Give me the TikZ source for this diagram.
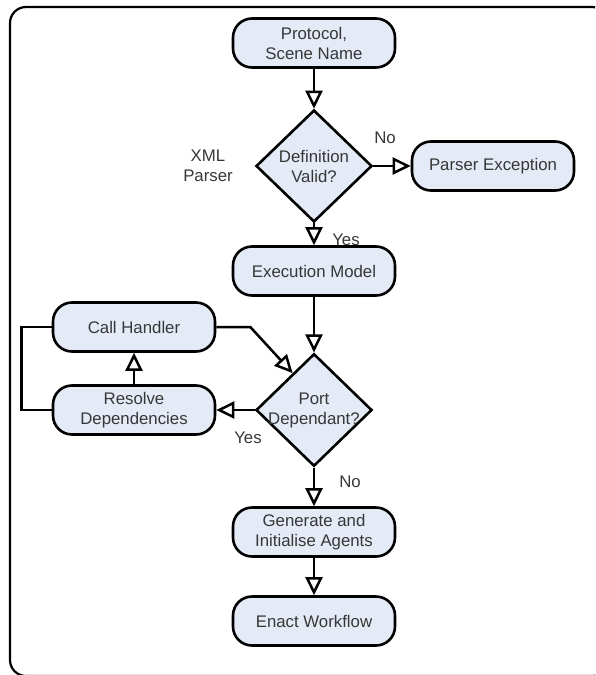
\documentclass[tikz,border=0pt]{standalone}
\usepackage{fontspec}
\setmainfont{Liberation Sans}
\usetikzlibrary{shapes.geometric, arrows.meta, calc}
\definecolor{BoxFill}{RGB}{228, 234, 246}
\definecolor{TextGrey}{RGB}{55, 55, 55}

\tikzset{
  labeltext/.style={text=TextGrey, font=\fontsize{16.8}{20}\selectfont, align=center},
  flowbox/.style={labeltext, draw, line width=2.6pt, fill=BoxFill, rounded corners=19pt,
    minimum width=162pt, minimum height=49pt, inner sep=0pt},
  decision/.style={labeltext, diamond, draw, line width=2.6pt, fill=BoxFill,
    minimum width=116pt, minimum height=112pt, inner sep=0pt},
  flowline/.style={line width=2.5pt, -{Triangle[length=18pt, width=17pt, fill=white]}},
}

\begin{document}
\begin{tikzpicture}[x=1pt, y=-1pt]
    \useasboundingbox (0,0) rectangle (595,675);

    % Frame
    \begin{scope}
      \clip (0,0) rectangle (595,675);
      \draw[line width=2.2pt, rounded corners=16pt] (10,7) rectangle (608,676);
    \end{scope}

    % Steps
    \node[flowbox] (proto) at (314,43) {Protocol,\\Scene Name};
    \node[decision] (valid) at (314,166) {Definition\\Valid?};
    \node[flowbox] (excep) at (493,166) {Parser Exception};
    \node[labeltext] (xml) at (208,166) {XML\\Parser};
    \node[flowbox] (model) at (314,271) {Execution Model};
    \node[decision, inner xsep=-7pt] (port) at (314,410) {Port\\Dependant?};
    \node[flowbox] (callh) at (134,327) {Call Handler};
    \node[flowbox] (resolve) at (134,410) {Resolve\\Dependencies};
    \node[flowbox] (agents) at (314,532) {Generate and\\Initialise Agents};
    \node[flowbox] (enact) at (314,621) {Enact Workflow};

    % Connectors
    \draw[flowline] (proto) -- (valid.north);
    \draw[flowline] (valid.east) -- (excep);
    \draw[flowline] (valid.south) -- (model);
    \draw[flowline] (model) -- (port.north);
    \coordinate (porthit) at ($(port.north)!0.36!(port.west)$);
    \draw[flowline] (callh.east) -- ++(34,0) -- (porthit);
    \draw[flowline] (resolve) -- (callh);
    \draw[flowline] (port.west) -- (resolve);
    \draw[line width=2.5pt] (callh.west) -- ++(-30,0) |- (resolve.west);
    \draw[flowline] (port.south) -- (agents);
    \draw[flowline] (agents) -- (enact);

    % Answers
    \node[labeltext] (validno) at (385,138) {No};
    \node[labeltext] (validyes) at (346,240) {Yes};
    \node[labeltext] (portyes) at (248,438) {Yes};
    \node[labeltext] (portno) at (350,482) {No};
\end{tikzpicture}
\end{document}
